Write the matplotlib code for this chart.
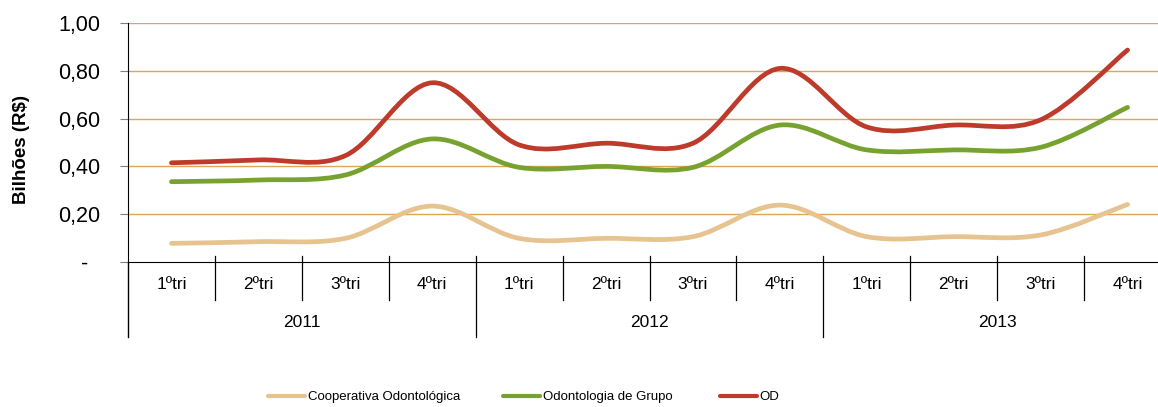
import matplotlib
matplotlib.use('Agg')
import matplotlib.pyplot as plt
from matplotlib.path import Path
from matplotlib.patches import PathPatch
from matplotlib.lines import Line2D

# data (bilhões R$)
quarters = ['1ºtri', '2ºtri', '3ºtri', '4ºtri'] * 3
years = ['2011', '2012', '2013']
cooperativa = [0.078, 0.085, 0.099, 0.234, 0.099, 0.099, 0.106, 0.238, 0.106, 0.106, 0.113, 0.241]
grupo = [0.336, 0.343, 0.364, 0.515, 0.396, 0.400, 0.396, 0.573, 0.469, 0.469, 0.480, 0.647]
od = [0.415, 0.427, 0.445, 0.750, 0.490, 0.497, 0.497, 0.810, 0.565, 0.573, 0.595, 0.887]

series = [
    ('Cooperativa Odontológica', cooperativa, '#E6C38F'),
    ('Odontologia de Grupo', grupo, '#78A22F'),
    ('OD', od, '#BE3A2A'),
]
yticks = [0, 0.2, 0.4, 0.6, 0.8, 1.0]
ytick_labels = ['-  ', '0,20', '0,40', '0,60', '0,80', '1,00']

plt.rcParams['font.family'] = ['Liberation Sans', 'DejaVu Sans']


def smooth_path(xs, ys):
    # Excel-style smoothed line: cubic bezier through the points (Catmull-Rom)
    pts = list(zip(xs, ys))
    verts = [pts[0]]
    codes = [Path.MOVETO]
    n = len(pts)
    for i in range(n - 1):
        p0 = pts[i - 1] if i > 0 else pts[i]
        p1 = pts[i]
        p2 = pts[i + 1]
        p3 = pts[i + 2] if i + 2 < n else pts[i + 1]
        c1 = (p1[0] + (p2[0] - p0[0]) / 6, p1[1] + (p2[1] - p0[1]) / 6)
        c2 = (p2[0] - (p3[0] - p1[0]) / 6, p2[1] - (p3[1] - p1[1]) / 6)
        verts += [c1, c2, p2]
        codes += [Path.CURVE4] * 3
    return Path(verts, codes)


fig = plt.figure(figsize=(11.58, 4.07), dpi=100)
ax = fig.add_axes([128 / 1158, 1 - 262 / 407, 1030 / 1158, 239 / 407])

x = list(range(len(quarters)))
for name, vals, color in series:
    patch = PathPatch(smooth_path(x, vals), facecolor='none', edgecolor=color,
                      lw=3.4, capstyle='round', joinstyle='round', zorder=3)
    ax.add_patch(patch)

ax.set_xlim(-0.5, 11.35)
ax.set_ylim(0, 1.0)
ax.set_yticks(yticks)
ax.set_yticklabels(ytick_labels, fontsize=15.5)
ax.tick_params(axis='y', length=6, color='#808080', pad=14)
ax.set_xticks([])
for yv in yticks[1:]:
    ax.axhline(yv, color='#DDA654', lw=1, zorder=1)

for s in ['top', 'right']:
    ax.spines[s].set_visible(False)
ax.spines['left'].set_color('black')
ax.spines['bottom'].set_color('black')

# multi-level category axis
tr = ax.get_xaxis_transform()
for i in range(1, len(quarters) + 1):
    xv = i - 0.5
    low = -0.314 if i % 4 == 0 else -0.159
    ax.plot([xv, xv], [0.025, low], color='black', lw=0.9, transform=tr, clip_on=False)
ax.plot([-0.5, -0.5], [0, -0.314], color='black', lw=1, transform=tr, clip_on=False)
for i, q in enumerate(quarters):
    ax.text(i, -0.096, q, transform=tr, ha='center', va='center', fontsize=12.5)
for j, yr in enumerate(years):
    ax.text(4 * j + 1.5, -0.255, yr, transform=tr, ha='center', va='center', fontsize=12.5)

fig.text(22 / 1158, 1 - 150 / 407, 'Bilhões (R$)', rotation=90, ha='center', va='center',
         fontsize=13.5, fontweight='bold')

# legend entries placed one by one
legend_x = [268, 503, 720]
for (name, _, color), lx in zip(series, legend_x):
    h = Line2D([], [], color=color, lw=3, solid_capstyle='round')
    fig.legend([h], [name], loc='center left', bbox_to_anchor=(lx / 1158, 1 - 397 / 407),
               frameon=False, fontsize=9.5, handlelength=2.8, handletextpad=0.2,
               borderaxespad=0, borderpad=0)

fig.savefig('out.png', dpi=100)
